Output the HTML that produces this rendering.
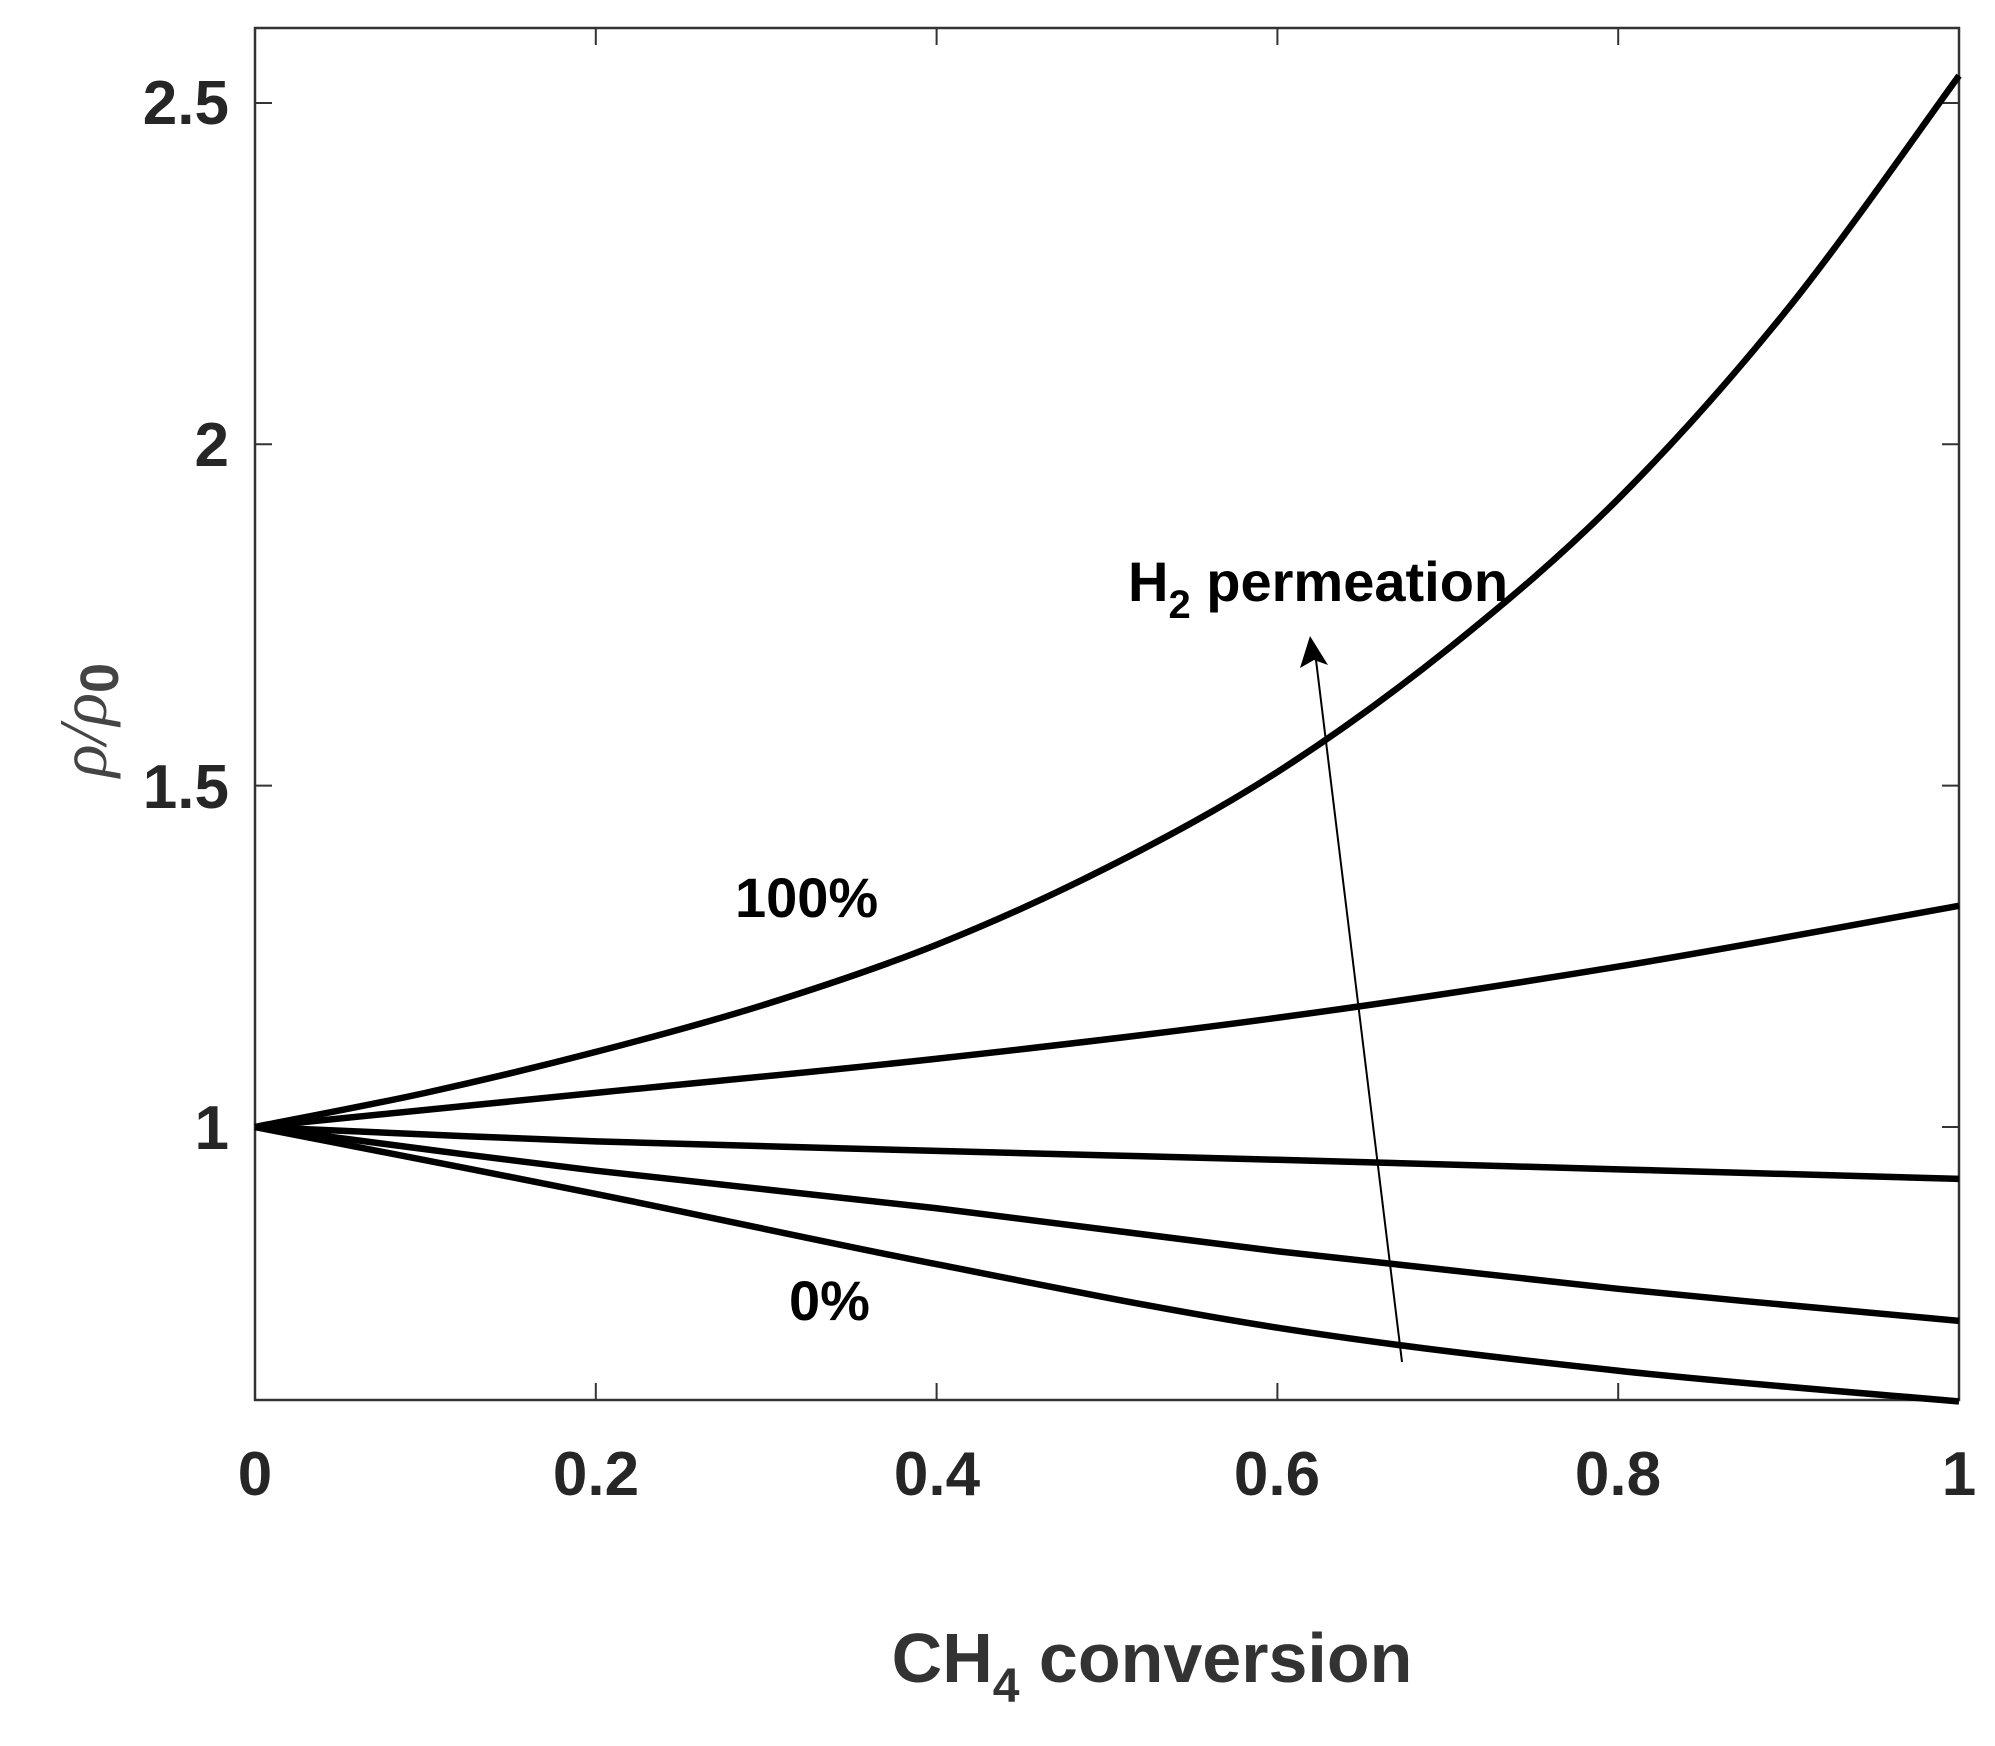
<!DOCTYPE html>
<html><head><meta charset="utf-8"><style>
html,body{margin:0;padding:0;background:#fff;}
svg{display:block;}
text{font-family:"Liberation Sans",Arial,sans-serif;}
</style></head><body>
<svg id="s" width="1995" height="1746" viewBox="0 0 1995 1746" xmlns="http://www.w3.org/2000/svg">
<rect width="1995" height="1746" fill="#fff"/>
<rect x="255" y="28" width="1704" height="1372" fill="none" stroke="#333" stroke-width="2.5"/>
<g id="ticks" stroke="#333" stroke-width="2"></g>
<g font-weight="bold" font-size="62" fill="#262626" text-anchor="middle">
<text x="255" y="1495">0</text>
<text x="596" y="1495">0.2</text>
<text x="937" y="1495">0.4</text>
<text x="1277" y="1495">0.6</text>
<text x="1618" y="1495">0.8</text>
<text x="1959" y="1495">1</text>
</g>
<g font-weight="bold" font-size="62" fill="#262626" text-anchor="end">
<text x="229" y="124">2.5</text>
<text x="229" y="466">2</text>
<text x="229" y="808">1.5</text>
<text x="229" y="1149">1</text>
</g>
<text x="1152" y="1682" font-size="70" font-weight="bold" fill="#333" text-anchor="middle">CH<tspan font-size="48" dy="20">4</tspan><tspan dy="-20"> conversion</tspan></text>
<text transform="translate(106,720) rotate(-90)" font-size="68" fill="#444" text-anchor="middle"><tspan font-family="Liberation Serif" font-style="italic">ρ/ρ</tspan><tspan font-weight="bold" font-size="54" dy="12">0</tspan></text>
<g id="curves" fill="none" stroke="#000" stroke-width="6.5" stroke-linejoin="round"></g>
<line x1="1402" y1="1362" x2="1316" y2="660" stroke="#000" stroke-width="2"/>
<polygon points="1310,636 1300,668 1314,660 1328,665" fill="#000"/>
<g font-weight="bold" font-size="56" fill="#000">
<text x="735" y="917">100%</text>
<text x="789" y="1320">0%</text>
<text x="1128" y="601">H<tspan font-size="40" dy="17">2</tspan><tspan dy="-17"> permeation</tspan></text>
</g>
</svg>
<script>
var X=function(v){return 255+v*1704;},Y=function(v){return 1127-(v-1)*682.7;};
var t=document.getElementById("ticks"),s="";
[0.2,0.4,0.6,0.8].forEach(function(v){var x=X(v);s+="<line x1='"+x+"' y1='1400' x2='"+x+"' y2='1383'/><line x1='"+x+"' y1='28' x2='"+x+"' y2='45'/>";});
[1,1.5,2,2.5].forEach(function(v){var y=Y(v);s+="<line x1='255' y1='"+y+"' x2='272' y2='"+y+"'/><line x1='1959' y1='"+y+"' x2='1942' y2='"+y+"'/>";});
t.innerHTML=s;
var data=[
[[0,1],[0.1,1.05],[0.2,1.11],[0.3,1.18],[0.4,1.267],[0.5,1.38],[0.6,1.52],[0.7,1.70],[0.8,1.92],[0.9,2.20],[1,2.54]],
[[0,1],[0.2,1.05],[0.4,1.1],[0.6,1.16],[0.8,1.235],[1,1.324]],
[[0,1],[0.2,0.979],[0.4,0.965],[0.6,0.952],[0.8,0.938],[1,0.924]],
[[0,1],[0.2,0.936],[0.4,0.881],[0.6,0.818],[0.8,0.763],[1,0.716]],
[[0,1],[0.2,0.902],[0.4,0.799],[0.6,0.706],[0.8,0.643],[1,0.598]]];
var g=document.getElementById("curves"),h="";
data.forEach(function(p){var P=p.map(function(q){return [X(q[0]),Y(q[1])];});
var d="M"+P[0][0]+","+P[0][1];
for(var i=0;i<P.length-1;i++){var p0=P[Math.max(i-1,0)],p1=P[i],p2=P[i+1],p3=P[Math.min(i+2,P.length-1)];
d+=" C"+(p1[0]+(p2[0]-p0[0])/6)+","+(p1[1]+(p2[1]-p0[1])/6)+" "+(p2[0]-(p3[0]-p1[0])/6)+","+(p2[1]-(p3[1]-p1[1])/6)+" "+p2[0]+","+p2[1];}
h+="<path d='"+d+"'/>";});
g.innerHTML=h;
</script>
</body></html>
